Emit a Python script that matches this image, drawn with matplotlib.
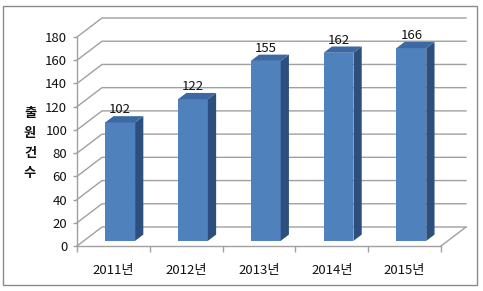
import matplotlib
matplotlib.use("Agg")
import matplotlib.pyplot as plt
from matplotlib.patches import Polygon, Rectangle

plt.rcParams['font.family'] = ['Noto Sans CJK KR', 'DejaVu Sans']

# 데이터
years = ['2011년', '2012년', '2013년', '2014년', '2015년']
counts = [102, 122, 155, 162, 166]
y_ticks = list(range(0, 181, 20))
y_label = '출원건수'

# 3D 효과 (픽셀 단위 깊이)
depth_px = (25, 19)
bar_front, bar_back = 0.27, 0.60
bar_width = 0.41

col_front = '#4F81BD'
col_side = '#2C4F7E'
col_top = '#3C69A3'
grid_col = '#A0A0A0'

W, H = 483, 291
fig = plt.figure(figsize=(W / 100, H / 100), dpi=100)
ax = fig.add_axes([77 / W, (H - 246) / H, 364 / W, 209 / H])
n = len(years)
ax.set_xlim(0.5, n + 0.5)
ax.set_ylim(0, 180)

# 깊이 방향 픽셀 → 데이터 단위
p0 = ax.transData.transform((0, 0))
p1 = ax.transData.transform((1, 1))
ddx = depth_px[0] / (p1[0] - p0[0])
ddy = depth_px[1] / (p1[1] - p0[1])

# 뒷벽 / 옆벽 눈금선
for v in y_ticks:
    ax.plot([0.5, 0.5 + ddx, n + 0.5 + ddx], [v, v + ddy, v + ddy],
            color=grid_col, lw=1, clip_on=False, zorder=1)
ax.plot([n + 0.5, n + 0.5 + ddx], [0, ddy], color=grid_col, lw=1,
        clip_on=False, zorder=1)

# 막대
for i, v in enumerate(counts):
    xc = i + 1
    x0 = xc - bar_width / 2 + bar_front * ddx
    x1 = xc + bar_width / 2 + bar_front * ddx
    y0 = bar_front * ddy
    sx, sy = (bar_back - bar_front) * ddx, (bar_back - bar_front) * ddy
    ax.add_patch(Polygon([(x0, y0), (x1, y0), (x1, v + y0), (x0, v + y0)],
                         closed=True, fc=col_front, ec='none', zorder=3, clip_on=False))
    ax.add_patch(Polygon([(x1, y0), (x1 + sx, y0 + sy), (x1 + sx, v + y0 + sy), (x1, v + y0)],
                         closed=True, fc=col_side, ec='none', zorder=3, clip_on=False))
    ax.add_patch(Polygon([(x0, v + y0), (x1, v + y0), (x1 + sx, v + y0 + sy), (x0 + sx, v + y0 + sy)],
                         closed=True, fc=col_top, ec='none', zorder=3, clip_on=False))
    ax.annotate(str(v), xy=((x0 + x1) / 2, v + y0), xytext=(0, 6.5),
                textcoords='offset points', ha='center', va='baseline',
                fontsize=9.5, color='#111111', zorder=4)

# 축
for s in ['top', 'right']:
    ax.spines[s].set_visible(False)
for s in ['left', 'bottom']:
    ax.spines[s].set_color(grid_col)
    ax.spines[s].set_linewidth(1)
ax.set_yticks(y_ticks)
ax.tick_params(axis='y', direction='out', length=3, width=1, color=grid_col,
               pad=4, labelsize=9.5, labelcolor='#111111')
ax.set_xticks(range(1, n + 1))
ax.set_xticklabels(years)
ax.set_xticks([k + 0.5 for k in range(n + 1)], minor=True)
ax.tick_params(axis='x', which='major', length=0, pad=13, labelsize=9.5,
               labelcolor='#111111')
ax.tick_params(axis='x', which='minor', direction='out', length=4, width=1,
               color=grid_col)
ax.patch.set_visible(False)

# 세로 축 제목
fig.text(30 / W, 1 - 143 / H, '\n'.join(y_label), ha='center', va='center',
         fontsize=9.5, fontweight='bold', linespacing=1.55, color='#111111')

# 테두리
fig.patches.append(Rectangle((3 / W, 1 - 285 / H), 474 / W, 279 / H,
                             transform=fig.transFigure, fill=False,
                             ec='#8A8A8A', lw=1))

fig.savefig('out.png', dpi=100)
